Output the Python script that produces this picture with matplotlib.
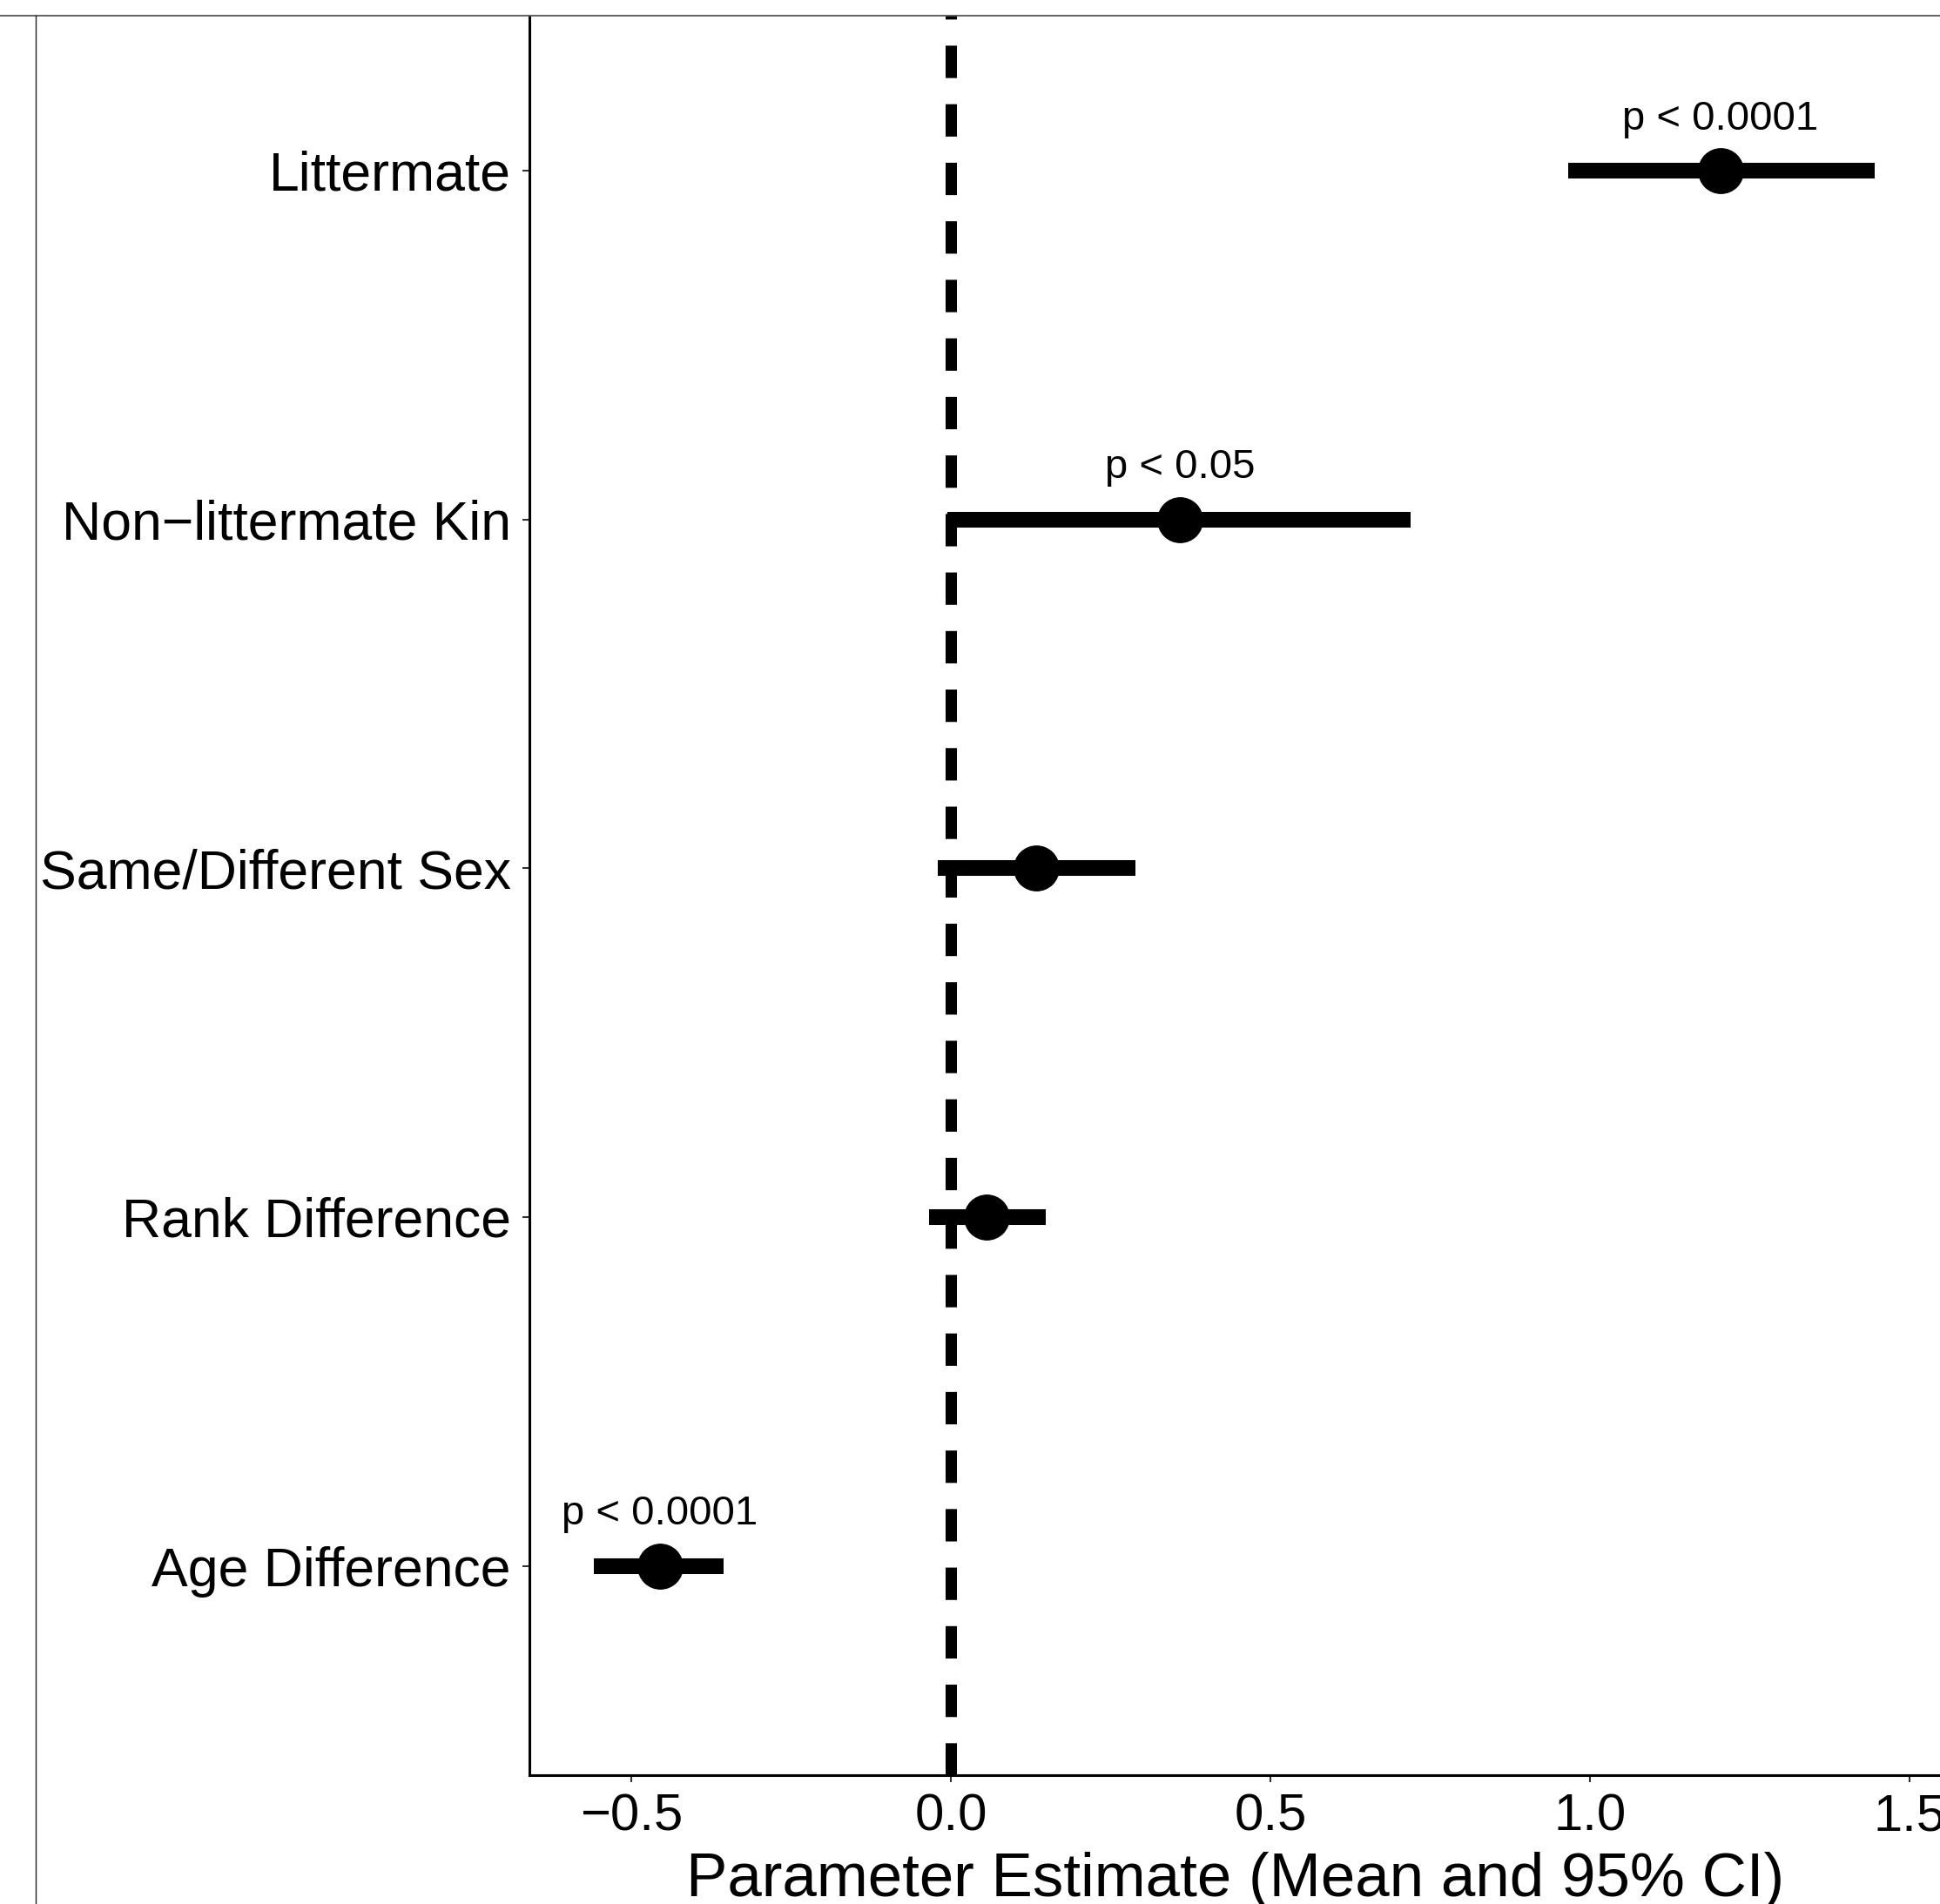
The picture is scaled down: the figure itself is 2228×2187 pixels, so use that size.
import matplotlib
matplotlib.use("Agg")
import matplotlib.pyplot as plt
from matplotlib.patches import Rectangle
from matplotlib.lines import Line2D

# ---- data ----
categories = ["Littermate", "Non\u2212littermate Kin", "Same/Different Sex",
              "Rank Difference", "Age Difference"]
means = [1.204, 0.358, 0.134, 0.056, -0.455]
ci_low = [0.966, -0.006, -0.021, -0.034, -0.559]
ci_high = [1.446, 0.720, 0.289, 0.149, -0.356]
p_labels = ["p < 0.0001", "p < 0.05", "", "", "p < 0.0001"]
xticks = [-0.5, 0.0, 0.5, 1.0, 1.5]

plt.rcParams['font.family'] = ['Liberation Sans', 'DejaVu Sans']

W, H, DPI = 2228, 2187, 100
fig = plt.figure(figsize=(W / DPI, H / DPI), dpi=DPI)

# axes geometry (pixels): left spine x=608, bottom spine y=2039, extends past top/right (cropped)
xlim = (-0.6594, 1.548)
ylim = (0.4, 5.6)
px_per_unit_x = 734.0
ax_left = 608 / W
ax_bottom = (H - 2039) / H
ax_w = (xlim[1] - xlim[0]) * px_per_unit_x / W
ax_h = (2039 + 44.6) / H
ax = fig.add_axes([ax_left, ax_bottom, ax_w, ax_h])

n = len(categories)
ypos = [n - i for i in range(n)]

ax.axvline(0, color='black', lw=9.4, ls=(0, (2.85, 2.3)),
           dash_capstyle='butt', zorder=1)
ax.hlines(ypos, ci_low, ci_high, color='black', lw=13, capstyle='butt', zorder=2)
ax.plot(means, ypos, 'o', color='black', ms=37, mec='black', zorder=3)

for m, y, lab in zip(means, ypos, p_labels):
    if lab:
        ax.text(m, y + 0.118, lab, ha='center', va='baseline', fontsize=34,
                color='black', zorder=4)

ax.set_xlim(*xlim)
ax.set_ylim(*ylim)
ax.set_yticks(ypos)
ax.set_yticklabels(categories)
ax.set_xticks(xticks)
ax.set_xticklabels(["\u22120.5", "0.0", "0.5", "1.0", "1.5"])

for s in ['top', 'right']:
    ax.spines[s].set_visible(False)
for s in ['left', 'bottom']:
    ax.spines[s].set_color('black')
    ax.spines[s].set_linewidth(2.2)

ax.tick_params(axis='y', length=5.8, width=1.5, color='#333333', pad=9.4,
               labelsize=45, labelcolor='black')
ax.tick_params(axis='x', length=5.8, width=1.5, color='#333333', pad=9,
               labelsize=43, labelcolor='black')
ax.set_xlabel("Parameter Estimate (Mean and 95% CI)", fontsize=51, labelpad=9,
              color='black')

# crop mask above outer border and outer border lines
top_frac = 1 - 17.5 / H
fig.add_artist(Rectangle((0, top_frac), 1, 1 - top_frac + 0.01,
                         transform=fig.transFigure, facecolor='white',
                         edgecolor='none', zorder=10))
fig.add_artist(Line2D([0, 1], [top_frac, top_frac], transform=fig.transFigure,
                      color='#555555', lw=1.3, zorder=11))
left_frac = 41 / W
fig.add_artist(Line2D([left_frac, left_frac], [0, top_frac], transform=fig.transFigure,
                      color='#222222', lw=1.0, zorder=11))

fig.savefig("out.png", dpi=DPI, facecolor='white')
